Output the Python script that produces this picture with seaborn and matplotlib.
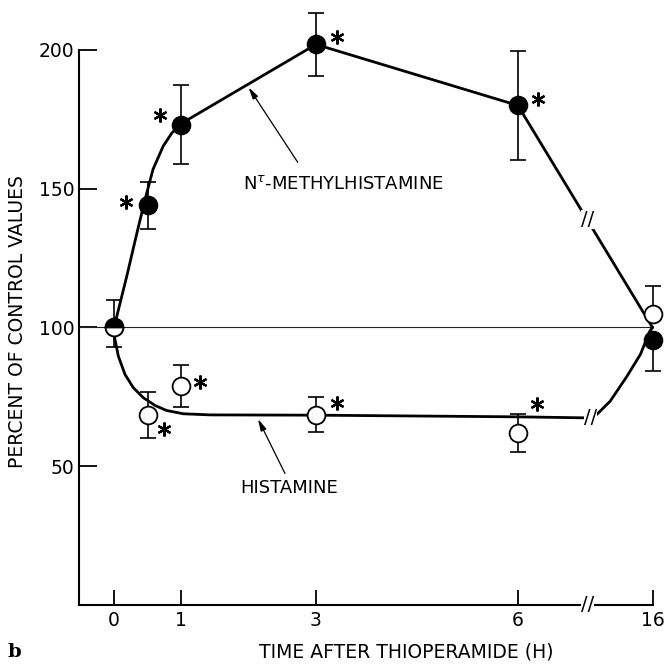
import matplotlib
matplotlib.use("Agg")
import matplotlib.pyplot as plt
from matplotlib.transforms import offset_copy
import seaborn as sns

# Sampling times (h) and where they sit on the broken time axis
times = [0, 0.5, 1, 3, 6, 16]
positions = [0, 0.5, 1, 3, 6, 8]
tick_positions = [0, 1, 3, 6, 8]
tick_labels = ["0", "1", "3", "6", "16"]

# N-tau-methylhistamine, percent of control: mean and SEM (below / above)
methyl_mean = [100, 144, 173, 202, 180, 95.5]
methyl_err_lo = [0, 8.6, 14.2, 11.3, 19.7, 11.2]
methyl_err_hi = [10, 8.6, 14.2, 11.3, 19.7, 0]

# Histamine, percent of control: mean and SEM (below / above)
hist_mean = [100, 68.5, 78.8, 68.6, 62, 105]
hist_err_lo = [7, 8.2, 7.6, 6.4, 7, 0]
hist_err_hi = [0, 8.2, 7.6, 6.4, 7, 10]

# Points marked as significantly different from control
methyl_sig = [False, True, True, True, True, False]
hist_sig = [False, True, True, True, True, False]

# Hand-fitted curves through the data (axis position, percent)
methyl_curve_x = [0, 0.19, 0.34, 0.46, 0.58, 0.73, 0.86, 1.0, 3.0, 6.0, 8.0]
methyl_curve_y = [100, 118.5, 134, 146, 157, 165.3, 170.1, 173.5, 202, 180, 100]
hist_curve_x = [0, 0.064, 0.163, 0.287, 0.435, 0.61, 0.78, 1.03, 1.43, 3, 6, 7.1,
                7.17, 7.37, 7.62, 7.82, 7.96, 8.0]
hist_curve_y = [97.5, 89.7, 83.1, 78.3, 74.7, 71.9, 70.1, 68.9, 68.5, 68.4, 67.8, 67.4,
                68.6, 73.4, 82.4, 90.3, 98.7, 100]

sns.set_style("ticks")
plt.rcParams["font.family"] = ["DejaVu Sans"]
plt.rcParams["mathtext.fontset"] = "dejavusans"
plt.rcParams["text.color"] = "black"
plt.rcParams["axes.labelcolor"] = "black"

fig = plt.figure(figsize=(6.68, 6.66), dpi=100)
ax = fig.add_axes([79 / 668, 61 / 666, 589 / 668, 605 / 666])
xlo, xhi = -0.52, 8.23
ax.set_xlim(xlo, xhi)
ax.set_ylim(0, 218)

# control level
ax.axhline(100, xmin=0, xmax=(8 - xlo) / (xhi - xlo), color="#222222", lw=0.8, zorder=1)

# fitted curves
sns.lineplot(x=methyl_curve_x, y=methyl_curve_y, sort=False, estimator=None,
             color="black", lw=2.0, ax=ax, zorder=2)
sns.lineplot(x=hist_curve_x, y=hist_curve_y, sort=False, estimator=None,
             color="black", lw=2.0, ax=ax, zorder=2)

# error bars
ekw = dict(fmt="none", ecolor="black", elinewidth=1.2, capsize=5.5, capthick=1.2,
           zorder=2.5, clip_on=False)
ax.errorbar(positions, methyl_mean, yerr=[methyl_err_lo, methyl_err_hi], **ekw)
ax.errorbar(positions, hist_mean, yerr=[hist_err_lo, hist_err_hi], **ekw)

# data points: filled = N-tau-methylhistamine, open = histamine;
# where both series share a value the circle is drawn half filled
ms = 12.8
shared = [h == m for h, m in zip(hist_mean, methyl_mean)]
open_x = [p for p, s in zip(positions, shared) if not s]
open_y = [h for h, s in zip(hist_mean, shared) if not s]
half_x = [p for p, s in zip(positions, shared) if s]
half_y = [m for m, s in zip(methyl_mean, shared) if s]

ax.plot(positions, methyl_mean, linestyle="none", marker="o", ms=ms, mfc="black",
        mec="black", mew=1.3, zorder=3, clip_on=False)
ax.plot(open_x, open_y, linestyle="none", marker="o", ms=ms, mfc="white",
        mec="black", mew=1.3, zorder=3.1, clip_on=False)
ax.plot(half_x, half_y, linestyle="none", marker="o", ms=ms, fillstyle="top",
        mfc="black", markerfacecoloralt="white", mec="black", mew=1.3,
        zorder=3.2, clip_on=False)

# significance asterisks, offset (pixels) from their points
methyl_star_off = [None, (-22, 3), (-21, 10), (21, 7), (20, 6), None]
hist_star_off = [None, (16, -14), (19, 4), (21, 12), (19, 29), None]
for xs, ys, sig, offs in ((positions, methyl_mean, methyl_sig, methyl_star_off),
                          (positions, hist_mean, hist_sig, hist_star_off)):
    for x, y, s, o in zip(xs, ys, sig, offs):
        if s:
            tr = offset_copy(ax.transData, fig=fig, x=o[0], y=o[1], units="dots")
            ax.plot(x, y, marker=(6, 2, 0), ms=10, mew=1.6, color="black",
                    transform=tr, zorder=4, clip_on=False)

# axis and curve break marks
brk = dict(ha="center", va="center", fontsize=14, color="black", zorder=5,
           bbox=dict(facecolor="white", edgecolor="none", pad=0.0), clip_on=False)
ax.text(7.03, 0, "//", **brk)
ax.text(7.03, 138.8, "//", **brk)
ax.text(7.08, 67.4, "//", **brk)

# curve labels with arrows
arrow = dict(arrowstyle="-|>,head_length=0.7,head_width=0.18", color="black",
             lw=0.9, shrinkA=0, shrinkB=0)
ax.text(1.92, 151.6, r"N$^{\tau}$-METHYLHISTAMINE", fontsize=13, ha="left", va="center")
ax.annotate("", xy=(2.0, 186.5), xytext=(2.73, 159.5), arrowprops=arrow)
ax.text(1.87, 42.3, "HISTAMINE", fontsize=13, ha="left", va="center")
ax.annotate("", xy=(2.14, 67.0), xytext=(2.54, 47.4), arrowprops=arrow)

# axes styling
sns.despine(ax=ax)
ax.spines["left"].set_bounds(0, 200)
ax.spines["bottom"].set_bounds(xlo, 8)
for sp in ("left", "bottom"):
    ax.spines[sp].set_linewidth(1.5)
    ax.spines[sp].set_color("black")
ax.set_yticks([50, 100, 150, 200])
ax.set_yticklabels(["50", "100", "150", "200"])
ax.set_xticks(tick_positions)
ax.set_xticklabels(tick_labels)
ax.tick_params(axis="y", direction="in", length=13, width=1.3, pad=3.5,
               labelsize=13.5, colors="black")
ax.tick_params(axis="x", direction="in", length=11, width=1.3, pad=4,
               labelsize=13.5, colors="black")
ax.set_xlabel("")
ax.set_ylabel("")

fig.text(18 / 668, 1 - 322 / 666, "PERCENT OF CONTROL VALUES", rotation=90,
         ha="center", va="center", fontsize=13.5)
fig.text(406 / 668, 1 - 652 / 666, "TIME AFTER THIOPERAMIDE (H)",
         ha="center", va="center", fontsize=13.5)
fig.text(14 / 668, 1 - 652 / 666, "b", ha="center", va="center", fontsize=14,
         fontweight="bold", family=["DejaVu Serif"])

fig.savefig("out.png", dpi=100, facecolor="white")
